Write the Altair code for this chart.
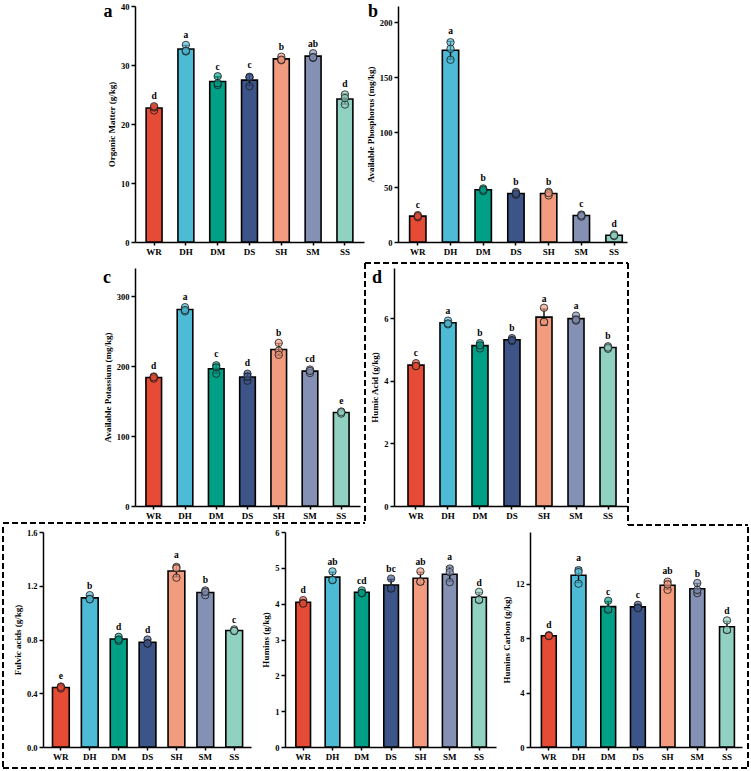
import altair as alt
import numpy as np
import pandas as pd

# Treatments and their fill colours
groups = ["WR", "DH", "DM", "DS", "SH", "SM", "SS"]
palette = ["#E64B35", "#4DBBD5", "#00A087", "#3C5488", "#F39B7F", "#8491B4", "#91D1C2"]

# Replicate measurements (three per treatment) and significance letters
organic_matter = [[22.3, 22.8, 23.0], [33.4, 32.3, 32.4], [28.1, 26.6, 26.9], [27.9, 26.4, 28.0],
                  [31.4, 30.8, 30.9], [32.0, 31.2, 31.3], [25.0, 23.3, 24.4]]
organic_matter_letters = ["d", "a", "c", "c", "b", "ab", "d"]

available_p = [[24.5, 22.5, 23.6], [182.0, 176.0, 166.0], [48.8, 46.3, 47.6], [45.6, 43.0, 44.1],
               [45.7, 42.4, 44.5], [25.0, 23.1, 24.2], [7.0, 5.4, 6.0]]
available_p_letters = ["c", "a", "b", "b", "b", "c", "d"]

available_k = [[185, 182, 184], [284, 278, 280], [201, 198, 189], [189, 179, 185],
               [233, 222, 216], [195, 190, 193], [135, 132, 134]]
available_k_letters = ["d", "a", "c", "d", "b", "cd", "e"]

humic_acid = [[4.56, 4.47, 4.47], [5.92, 5.80, 5.83], [5.20, 5.03, 5.13], [5.36, 5.27, 5.30],
              [6.33, 5.88, 5.88], [6.08, 5.92, 5.95], [5.10, 5.02, 5.06]]
humic_acid_letters = ["c", "a", "b", "b", "a", "a", "b"]

fulvic_acids = [[0.45, 0.435, 0.445], [1.13, 1.10, 1.10], [0.82, 0.79, 0.80], [0.80, 0.77, 0.77],
                [1.34, 1.26, 1.33], [1.165, 1.13, 1.155], [0.875, 0.862, 0.865]]
fulvic_acids_letters = ["e", "b", "d", "d", "a", "b", "c"]

humins = [[4.10, 4.02, 4.00], [4.90, 4.66, 4.66], [4.37, 4.29, 4.30], [4.70, 4.44, 4.42],
          [4.90, 4.62, 4.61], [4.98, 4.60, 4.88], [4.33, 4.10, 4.11]]
humins_letters = ["d", "ab", "cd", "bc", "ab", "a", "d"]

humins_carbon = [[8.22, 8.15, 8.17], [13.0, 12.0, 12.85], [10.75, 10.10, 10.10], [10.45, 10.25, 10.20],
                 [12.15, 11.55, 11.95], [12.05, 11.30, 11.55], [9.30, 8.60, 8.60]]
humins_carbon_letters = ["d", "a", "c", "c", "ab", "b", "d"]

FONT = "Liberation Serif"
one_row = pd.DataFrame({"k": [0]})


def summarize(reps, letters):
    rows, pts = [], []
    for g, vals, let in zip(groups, reps, letters):
        arr = np.asarray(vals, dtype=float)
        m, s = arr.mean(), arr.std(ddof=1)
        rows.append(dict(group=g, mean=m, lo=m - s, hi=m + s, letter=let))
        pts.extend(dict(group=g, value=v) for v in vals)
    return pd.DataFrame(rows), pd.DataFrame(pts)


def panel(reps, letters, title, ymax, ticks, width, height,
          pad_inner=0.5, pad_outer=0.33, align=0.5, fmt=None, extra=()):
    summary, points = summarize(reps, letters)
    x = alt.X("group:N", sort=groups,
              scale=alt.Scale(domain=groups, paddingInner=pad_inner,
                              paddingOuter=pad_outer, align=align),
              axis=alt.Axis(title=None, labelAngle=0, labelFontSize=9,
                            tickSize=3, labelPadding=2))
    yscale = alt.Scale(domain=[0, ymax], nice=False, zero=True)
    axis_kw = dict(title=title, values=ticks, tickSize=4, labelPadding=2,
                   titlePadding=4, labelFontSize=8.5, titleFontSize=9)
    if fmt:
        axis_kw["format"] = fmt
    yaxis = alt.Axis(**axis_kw)
    color = alt.Color("group:N", scale=alt.Scale(domain=groups, range=palette), legend=None)

    bars = alt.Chart(summary).mark_bar(stroke="black", strokeWidth=1.6).encode(
        x=x, y=alt.Y("mean:Q", scale=yscale, axis=yaxis), color=color)
    err = alt.Chart(summary).mark_rule(color="black", strokeWidth=1.4).encode(
        x=x, y=alt.Y("lo:Q", scale=yscale, axis=yaxis), y2="hi:Q")
    cap_hi = alt.Chart(summary).mark_tick(color="black", size=7, thickness=1.4).encode(
        x=x, y=alt.Y("hi:Q", scale=yscale, axis=yaxis))
    cap_lo = alt.Chart(summary).mark_tick(color="black", size=7, thickness=1.4).encode(
        x=x, y=alt.Y("lo:Q", scale=yscale, axis=yaxis))
    dots = alt.Chart(points).mark_circle(size=55, stroke="#1a1a1a", strokeWidth=0.8,
                                         fillOpacity=0.65).encode(
        x=x, y=alt.Y("value:Q", scale=yscale, axis=yaxis), color=color)
    sig = alt.Chart(summary).mark_text(font=FONT, fontWeight="bold", fontSize=9.5,
                                       baseline="bottom", dy=-5, color="black").encode(
        x=x, y=alt.Y("hi:Q", scale=yscale, axis=yaxis), text="letter:N")
    return alt.layer(bars, err, cap_hi, cap_lo, dots, sig, *extra).properties(
        width=width, height=height)


def tag(letter, px, py):
    return alt.Chart(pd.DataFrame({"tag": [letter]})).mark_text(
        font=FONT, fontWeight="bold", fontSize=18, align="center", baseline="alphabetic",
        color="black").encode(x=alt.value(px), y=alt.value(py), text="tag:N")


def dash(x1, y1, x2, y2):
    return alt.Chart(one_row).mark_rule(color="black", strokeWidth=2, strokeDash=[6, 3]).encode(
        x=alt.value(x1), x2=alt.value(x2), y=alt.value(y1), y2=alt.value(y2))


def extent(top, bottom):
    # transparent rule that fixes the vertical extent of a row of panels
    return alt.Chart(one_row).mark_rule(color="white", strokeOpacity=0).encode(
        x=alt.value(0), y=alt.value(top), y2=alt.value(bottom))


# dashed frame: upper part around panel d (offsets from panel d's origin)
frame_d = [
    dash(-29, -5, 234, -5), dash(-29, -5, -29, 255), dash(234, -5, 234, 257),
    dash(-391, 255, -29, 255), dash(234, 257, 354, 257),
]
# lower part around the bottom row (offsets from the fulvic panel origin)
frame_bottom = [
    dash(-40, -5, -40, 236), dash(705, -5, 705, 236), dash(-40, 236, 705, 236),
]


def spacer(w, h):
    return alt.Chart(one_row).mark_point(opacity=0).encode(
        x=alt.value(0), y=alt.value(0)).properties(width=w, height=h)


pa = panel(organic_matter, organic_matter_letters, "Organic Matter (g/kg)", 40,
           [0, 10, 20, 30, 40], 229, 236, pad_outer=0.35, align=0.5,
           extra=[tag("a", -27, 11), extent(-6, 256)])
pb = panel(available_p, available_p_letters, "Available Phosphorus (mg/kg)", 215,
           [0, 50, 100, 150, 200], 229, 236, pad_outer=0.25, align=0.71,
           extra=[tag("b", -25, 11)])
pc = panel(available_k, available_k_letters, "Available Potassium (mg/kg)", 340,
           [0, 100, 200, 300], 225, 238, pad_outer=0.35, align=0.5,
           extra=[tag("c", -28, 15), extent(-6, 258)])
pdh = panel(humic_acid, humic_acid_letters, "Humic Acid (g/kg)", 7.6,
            [0, 2, 4, 6], 233, 238, pad_outer=0.39, align=0.56,
            extra=[tag("d", -17, 15), *frame_d])
pfa = panel(fulvic_acids, fulvic_acids_letters, "Fulvic acids (g/kg)", 1.6,
            [0, 0.4, 0.8, 1.2, 1.6], 208, 215, pad_inner=0.42, pad_outer=0.31,
            align=0.53, fmt=".1f", extra=[extent(-6, 236), *frame_bottom])
phu = panel(humins, humins_letters, "Humins (g/kg)", 6,
            [0, 1, 2, 3, 4, 5, 6], 211, 215, pad_outer=0.35, align=0.53)
phc = panel(humins_carbon, humins_carbon_letters, "Humins Carbon (g/kg)", 15.8,
            [0, 4, 8, 12], 212, 215, pad_outer=0.32, align=0.6)

row1 = alt.hconcat(spacer(58, 236), pa, pb, spacing=34, bounds="flush")
row2 = alt.hconcat(spacer(58, 238), pc, pdh, spacing=34, bounds="flush")
row3 = alt.hconcat(pfa, phu, phc, spacing=34, bounds="flush")

chart = alt.vconcat(row1, row2, row3, spacing=0, bounds="full").properties(
    padding={"left": 2, "top": 0, "right": 0, "bottom": 0},
).configure_view(stroke=None).configure_axis(
    domainColor="black", domainWidth=1.5, tickColor="black", tickWidth=1.5,
    labelColor="black", titleColor="black", labelFont=FONT, titleFont=FONT,
    labelFontWeight="bold", titleFontWeight="bold", grid=False,
)

chart.save("out.html", embed_options={"renderer": "svg", "actions": False})
